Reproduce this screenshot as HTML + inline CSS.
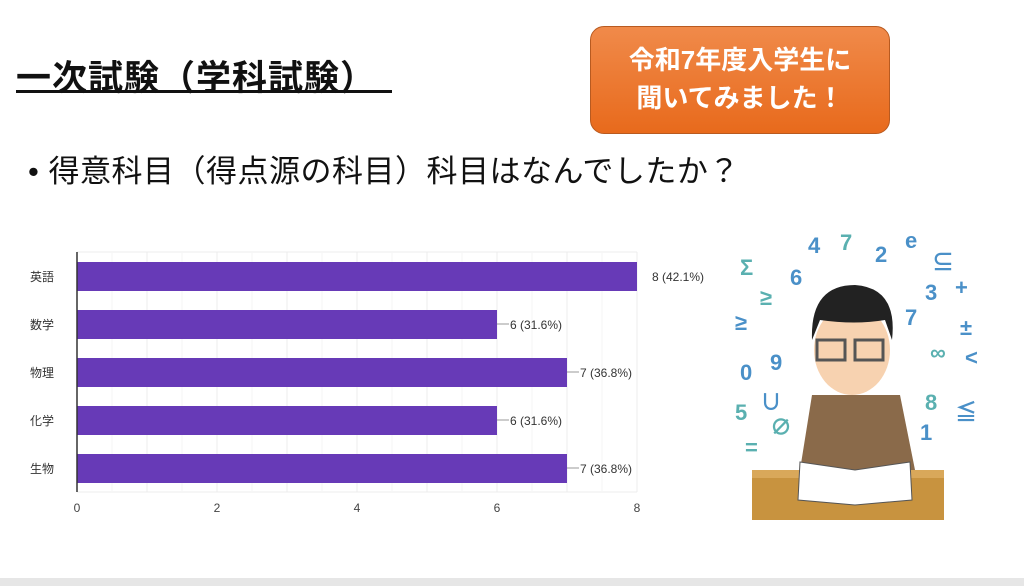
<!DOCTYPE html>
<html><head><meta charset="utf-8"><style>
body{margin:0;width:1024px;height:586px;background:#fff;overflow:hidden;position:relative;font-family:"Liberation Sans","Noto Sans CJK JP",sans-serif}
.t{position:absolute;left:16px;top:50px;font-size:35px;font-weight:bold;color:#111;letter-spacing:1px;white-space:nowrap}
.ul{position:absolute;left:16px;top:90px;width:376px;height:3px;background:#111}
.box{position:absolute;left:590px;top:26px;width:300px;height:108px;border-radius:14px;background:linear-gradient(#f08a4a,#e86a1c);border:1px solid #b85a20;color:#fff;font-weight:bold;font-size:26px;line-height:38px;text-align:center;padding-top:14px;box-sizing:border-box;white-space:nowrap}
.q{position:absolute;left:28px;top:146px;font-size:31px;color:#111;letter-spacing:0.5px;white-space:nowrap}
.bot{position:absolute;left:0;top:578px;width:1024px;height:8px;background:#e6e6e6}
</style></head><body>
<div class="t">一次試験（学科試験）</div><div class="ul"></div>
<div class="box">令和7年度入学生に<br>聞いてみました！</div>
<div class="q">• 得意科目（得点源の科目）科目はなんでしたか？</div>
<svg width="1024" height="586" style="position:absolute;left:0;top:0" font-family="Liberation Sans,Noto Sans CJK JP,sans-serif">
<g stroke="#ececec" stroke-width="1">
<line x1="77" y1="252" x2="637" y2="252"/><line x1="77" y1="492" x2="637" y2="492"/>
<line x1="112" y1="252" x2="112" y2="492" stroke="#f6f6f6"/><line x1="147" y1="252" x2="147" y2="492"/><line x1="182" y1="252" x2="182" y2="492" stroke="#f6f6f6"/><line x1="217" y1="252" x2="217" y2="492"/><line x1="252" y1="252" x2="252" y2="492" stroke="#f6f6f6"/><line x1="287" y1="252" x2="287" y2="492"/><line x1="322" y1="252" x2="322" y2="492" stroke="#f6f6f6"/><line x1="357" y1="252" x2="357" y2="492"/><line x1="392" y1="252" x2="392" y2="492" stroke="#f6f6f6"/><line x1="427" y1="252" x2="427" y2="492"/><line x1="462" y1="252" x2="462" y2="492" stroke="#f6f6f6"/><line x1="497" y1="252" x2="497" y2="492"/><line x1="532" y1="252" x2="532" y2="492" stroke="#f6f6f6"/><line x1="567" y1="252" x2="567" y2="492"/><line x1="602" y1="252" x2="602" y2="492" stroke="#f6f6f6"/><line x1="637" y1="252" x2="637" y2="492"/>
</g>
<g fill="#673ab7">
<rect x="77" y="262" width="560" height="29"/><rect x="77" y="310" width="420" height="29"/><rect x="77" y="358" width="490" height="29"/><rect x="77" y="406" width="420" height="29"/><rect x="77" y="454" width="490" height="29"/>
</g>
<line x1="77" y1="252" x2="77" y2="492" stroke="#333" stroke-width="1.5"/>
<g stroke="#999"><line x1="497" y1="324" x2="509" y2="324"/><line x1="567" y1="372" x2="579" y2="372"/><line x1="497" y1="420" x2="509" y2="420"/><line x1="567" y1="468" x2="579" y2="468"/></g>
<g font-size="12" fill="#333">
<text x="652" y="281">8 (42.1%)</text><text x="510" y="329">6 (31.6%)</text><text x="580" y="377">7 (36.8%)</text><text x="510" y="425">6 (31.6%)</text><text x="580" y="473">7 (36.8%)</text>
<text x="30" y="281">英語</text><text x="30" y="329">数学</text><text x="30" y="377">物理</text><text x="30" y="425">化学</text><text x="30" y="473">生物</text>
</g>
<g font-size="12" fill="#444" text-anchor="middle"><text x="77" y="512">0</text><text x="217" y="512">2</text><text x="357" y="512">4</text><text x="497" y="512">6</text><text x="637" y="512">8</text></g>
<rect x="752" y="470" width="192" height="50" fill="#c8933f"/><rect x="752" y="470" width="192" height="8" fill="#d9a85a"/>
<path d="M812 395 L900 395 L915 470 L800 470 Z" fill="#8a6a4a"/>
<path d="M800 462 L855 470 L910 462 L912 500 L855 505 L798 500 Z" fill="#fff" stroke="#555"/>
<ellipse cx="852" cy="350" rx="38" ry="45" fill="#f7d2b0"/>
<path d="M812 340 Q810 285 855 285 Q898 288 892 340 L885 320 Q855 325 820 320 Z" fill="#222"/>
<rect x="817" y="340" width="28" height="20" fill="none" stroke="#555" stroke-width="3"/><rect x="855" y="340" width="28" height="20" fill="none" stroke="#555" stroke-width="3"/>
<g font-size="22" font-weight="bold">
<text x="808" y="253" fill="#4a90c8">4</text><text x="840" y="250" fill="#5ab0b0">7</text><text x="875" y="262" fill="#4a90c8">2</text><text x="905" y="248" fill="#4a90c8">e</text><text x="932" y="270" fill="#4a90c8">⊆</text>
<text x="740" y="275" fill="#5ab0b0">Σ</text><text x="790" y="285" fill="#4a90c8">6</text><text x="925" y="300" fill="#4a90c8">3</text><text x="955" y="295" fill="#4a90c8">+</text>
<text x="735" y="330" fill="#4a90c8">≥</text><text x="760" y="305" fill="#5ab0b0">≥</text><text x="905" y="325" fill="#4a90c8">7</text><text x="960" y="335" fill="#4a90c8">±</text>
<text x="740" y="380" fill="#4a90c8">0</text><text x="770" y="370" fill="#4a90c8">9</text><text x="930" y="360" fill="#5ab0b0">∞</text><text x="965" y="365" fill="#4a90c8">&lt;</text>
<text x="735" y="420" fill="#5ab0b0">5</text><text x="760" y="410" fill="#4a90c8">∪</text><text x="925" y="410" fill="#5ab0b0">8</text><text x="955" y="420" fill="#4a90c8">≦</text>
<text x="770" y="435" fill="#5ab0b0">∅</text><text x="920" y="440" fill="#4a90c8">1</text><text x="745" y="455" fill="#5ab0b0">=</text>
</g>
</svg>
<div class="bot"></div>
</body></html>
